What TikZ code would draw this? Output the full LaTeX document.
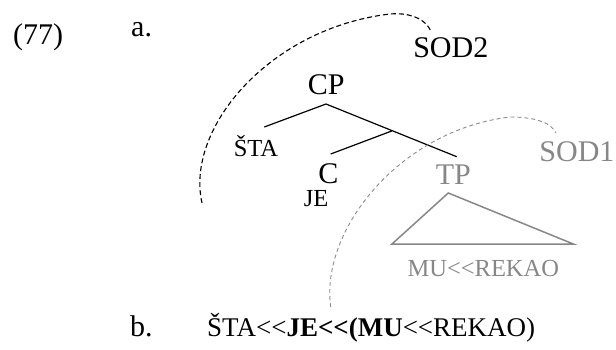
\documentclass[tikz,border=0pt]{standalone}
\usepackage{fontspec}
\setmainfont{Liberation Serif}
\definecolor{shade}{gray}{0.53}
\definecolor{arcgray}{gray}{0.55}
\begin{document}
\begin{tikzpicture}[x=1pt,y=-1pt,
  big/.style={inner sep=0pt,anchor=base,font=\fontsize{30}{36}\selectfont},
  small/.style={inner sep=0pt,anchor=base,font=\fontsize{24.5}{30}\selectfont},
  branch/.style={line width=1.2pt,black},
  graybig/.style={big,text=shade},
  graysmall/.style={small,text=shade},
  tri/.style={line width=1.5pt,draw=shade},
  sodarc/.style={line width=1.1pt,dash pattern=on 5pt off 3pt},
  sodarcgray/.style={line width=0.9pt,draw=arcgray,dash pattern=on 4pt off 3pt}]
\useasboundingbox (0,0) rectangle (616,350);

% example number and sub-labels
\node[big,anchor=base west] (num) at (13,45) {(77)};
\node[big,anchor=base west] (la) at (131,37) {a.};
\node[big,anchor=base west] (lb) at (130,336.7) {b.};

% tree labels
\node[big] (cp) at (326.3,95) {CP};
\node[small] (sta) at (256,156.7) {ŠTA};
\node[big] (c) at (328.5,183) {C};
\node[small] (je) at (316,207) {JE};
\node[graybig] (tp) at (453.3,184) {TP};
\node[graysmall] (mu) at (483.3,276.7) {MU<{}<REKAO};
\node[big] (sod2) at (450.8,58) {SOD2};
\node[graybig] (sod1) at (577,161.7) {SOD1};

% branch points
\coordinate (cpfoot) at (326,104);
\coordinate (stahead) at (264.3,127);
\coordinate (cbar) at (391.7,131);
\coordinate (chead) at (330.7,154);
\coordinate (tphead) at (456.7,156.7);
\draw[branch] (stahead) -- (cpfoot) -- (tphead);
\draw[branch] (chead) -- (cbar);

% TP triangle
\coordinate (tritop) at (448.3,193);
\coordinate (trileft) at (392,244);
\coordinate (triright) at (573.3,244);
\draw[tri,line join=miter] (tritop) -- (trileft) -- (triright) -- cycle;

% spell-out domains
\coordinate (s2end) at (431,32);
\coordinate (s2low) at (202,203);
\coordinate (s2top) at (390,14);
\draw[sodarc] (s2low) .. controls (185,128) and (270,28) .. (s2top)
  .. controls (414,12) and (428,22) .. (s2end);

\coordinate (s1end) at (556,133);
\coordinate (s1low) at (330.7,307);
\coordinate (s1top) at (510,117);
\draw[sodarcgray] (s1low) .. controls (320,230) and (400,130) .. (s1top)
  .. controls (538,117) and (552,124) .. (s1end);

% linearised string
\node[inner sep=0pt,anchor=base west,font=\fontsize{27}{32}\selectfont] (str) at (207,336.7)
  {ŠTA<{}<\textbf{JE<{}<(MU}<{}<REKAO)};
\end{tikzpicture}
\end{document}
